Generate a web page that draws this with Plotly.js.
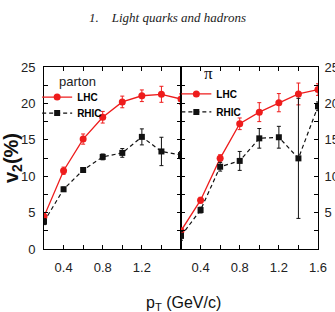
<!DOCTYPE html>
<html><head><meta charset="utf-8">
<script src="https://cdn.plot.ly/plotly-3.0.1.min.js"></script>
<style>html,body{margin:0;padding:0;background:#fff;}#chart{width:335px;height:312px;}</style>
</head><body><div id="chart"></div>
<script>
// data
const pT = [0.2, 0.4, 0.6, 0.8, 1.0, 1.2, 1.4, 1.6];
const partonLHC = [4.45, 10.75, 15.1, 18.1, 20.2, 21.05, 21.25, 20.6];
const partonLHCErr = [0.5, 0.5, 0.7, 0.8, 0.8, 0.8, 1.1, 0.7];
const partonRHIC = [3.75, 8.2, 10.85, 12.65, 13.2, 15.4, 13.4, 12.9];
const partonRHICErr = [0.4, 0.3, 0.3, 0.4, 0.6, 1.1, 1.95, 0.5];
const pionLHC = [2.5, 6.7, 12.45, 17.2, 18.8, 20.1, 21.3, 21.9];
const pionLHCErr = [0.3, 0.4, 0.5, 0.8, 1.3, 1.25, 1.5, 0.8];
const pionRHIC = [1.8, 5.35, 11.3, 12.1, 15.2, 15.35, 12.45, 19.6];
const pionRHICErr = [0.6, 0.4, 0.6, 1.3, 1.35, 1.5, 8.25, 0.6];

const xTickVals = [0.2, 0.4, 0.6, 0.8, 1.0, 1.2, 1.4, 1.6];
const xTickTextLeft = ['', '0.4', '', '0.8', '', '1.2', '', ''];
const xTickTextRight = ['', '0.4', '', '0.8', '', '1.2', '', '1.6'];
const yTickVals = [0, 2.5, 5, 7.5, 10, 12.5, 15, 17.5, 20, 22.5, 25];
const yTickTextLeft = ['0', '', '5', '', '10', '', '15', '', '20', '', '25'];
const yTickTextRight = ['', '', '5', '', '10', '', '15', '', '20', '', '25'];
const seriesNames = ['LHC', 'RHIC'];

const RED = '#ee1c1c';
const BLK = '#111111';
const narrow = 'Liberation Sans Narrow, Arial Narrow, Liberation Sans, Arial, sans-serif';

function lhcTrace(y, err, xa, ya, leg) {
  return {x: pT, y: y, xaxis: xa, yaxis: ya, legend: leg, name: seriesNames[0],
    type: 'scatter', mode: 'lines+markers',
    line: {color: RED, width: 1.3},
    marker: {symbol: 'circle', size: 7, color: RED},
    error_y: {type: 'data', array: err, visible: true, color: RED, thickness: 1, width: 2}};
}
function rhicTrace(y, err, xa, ya, leg) {
  return {x: pT, y: y, xaxis: xa, yaxis: ya, legend: leg, name: seriesNames[1],
    type: 'scatter', mode: 'lines+markers',
    line: {color: BLK, width: 1.2, dash: '4px,3px'},
    marker: {symbol: 'square', size: 6, color: BLK},
    error_y: {type: 'data', array: err, visible: true, color: BLK, thickness: 1, width: 2}};
}

const data = [
  lhcTrace(partonLHC, partonLHCErr, 'x', 'y', 'legend'),
  rhicTrace(partonRHIC, partonRHICErr, 'x', 'y', 'legend2'),
  lhcTrace(pionLHC, pionLHCErr, 'x2', 'y2', 'legend3'),
  rhicTrace(pionRHIC, pionRHICErr, 'x2', 'y2', 'legend4')
];

const axCommon = {
  showline: true, linecolor: '#000', linewidth: 1, mirror: 'allticks',
  ticks: 'inside', ticklen: 4, tickcolor: '#000', tickwidth: 1,
  showgrid: false, zeroline: false, tickmode: 'array',
  tickfont: {family: narrow, size: 13, color: '#222'}
};

const legCommon = {
  bgcolor: 'rgba(0,0,0,0)', borderwidth: 0,
  font: {family: narrow, size: 10, color: '#000', weight: 'bold'},
  xanchor: 'left', yanchor: 'middle', itemwidth: 30
};

const layout = {
  width: 335, height: 312,
  margin: {l: 44, r: 17, t: 67, b: 63, pad: 0},
  paper_bgcolor: '#fff', plot_bgcolor: '#fff',
  showlegend: true,
  title: {text: '1.\u00a0\u00a0\u00a0\u00a0Light quarks and hadrons',
    font: {family: 'Liberation Serif, Times New Roman, serif', size: 13, style: 'italic', color: '#222'},
    x: 0.5, xref: 'container', xanchor: 'center', y: 0.945, yref: 'container', yanchor: 'middle'},
  xaxis: Object.assign({}, axCommon, {domain: [0, 0.5], range: [0.2, 1.6], anchor: 'y',
    tickvals: xTickVals, ticktext: xTickTextLeft, ticklabelstandoff: 6}),
  xaxis2: Object.assign({}, axCommon, {domain: [0.5, 1], range: [0.2, 1.6], anchor: 'y2',
    tickvals: xTickVals, ticktext: xTickTextRight, ticklabelstandoff: 6}),
  yaxis: Object.assign({}, axCommon, {range: [0, 25], anchor: 'x', side: 'left',
    tickvals: yTickVals, ticktext: yTickTextLeft, ticklabelstandoff: 5,
    title: {text: 'v<sub>2</sub>(%)', standoff: 2,
      font: {family: 'Liberation Sans, Arial, sans-serif', size: 20, weight: 'bold', color: '#111'}}}),
  yaxis2: Object.assign({}, axCommon, {range: [0, 25], anchor: 'x2', side: 'right',
    tickvals: yTickVals, ticktext: yTickTextRight, ticklabelstandoff: 3}),
  legend: Object.assign({}, legCommon, {x: -0.025, y: 0.835}),
  legend2: Object.assign({}, legCommon, {x: -0.025, y: 0.747}),
  legend3: Object.assign({}, legCommon, {x: 0.483, y: 0.852}),
  legend4: Object.assign({}, legCommon, {x: 0.483, y: 0.753}),
  annotations: [
    {text: 'parton', xref: 'paper', yref: 'paper', x: 0.047, y: 0.923, xanchor: 'left', yanchor: 'middle',
     showarrow: false, font: {family: narrow, size: 13, color: '#222'}},
    {text: '\u03c0', xref: 'paper', yref: 'paper', x: 0.6, y: 0.962, xanchor: 'center', yanchor: 'middle',
     showarrow: false, font: {family: 'Liberation Serif, serif', size: 17, color: '#111'}},
    {text: 'p<sub>T</sub> (GeV/c)', xref: 'paper', yref: 'paper', x: 0.509, y: -0.297,
     xanchor: 'center', yanchor: 'middle', showarrow: false,
     font: {family: 'Liberation Sans, Arial, sans-serif', size: 16, color: '#111'}}
  ]
};

Plotly.newPlot('chart', data, layout, {staticPlot: true, displayModeBar: false});
</script></body></html>
